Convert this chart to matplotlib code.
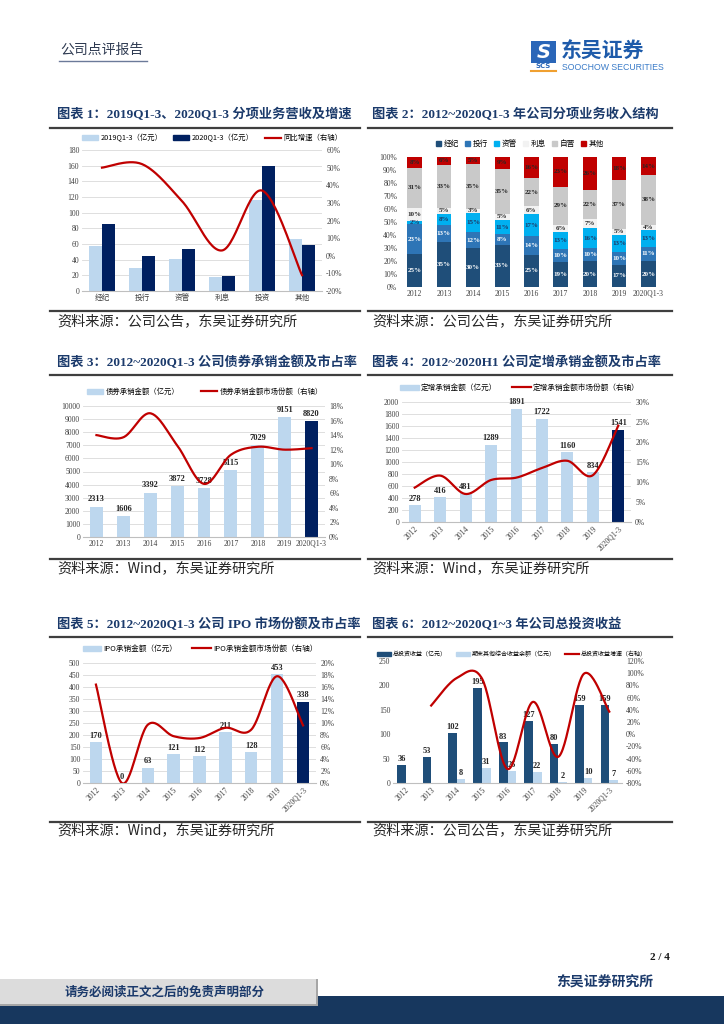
import matplotlib
matplotlib.use('Agg')
import matplotlib.pyplot as plt
import numpy as np
from matplotlib.patches import Rectangle, Patch
from matplotlib.lines import Line2D

plt.rcParams['font.family'] = ['Liberation Serif', 'Noto Sans CJK SC']
plt.rcParams['axes.unicode_minus'] = False

# ---------------- data ----------------
cat1 = ['经纪', '投行', '资管', '利息', '投资', '其他']
rev_2019 = [57, 30, 41, 18, 116, 66]
rev_2020 = [85, 45, 54, 19, 159, 59]
yoy_1 = [50, 52, 31, 3, 37, -11]

years2 = ['2012', '2013', '2014', '2015', '2016', '2017', '2018', '2019', '2020Q1-3']
seg_names = ['经纪', '投行', '资管', '利息', '自营', '其他']
s_brokerage = [25, 35, 30, 33, 25, 19, 20, 17, 20]
s_ib = [23, 13, 12, 8, 14, 10, 10, 10, 11]
s_am = [2, 8, 15, 11, 17, 13, 16, 13, 13]
s_interest = [10, 5, 3, 5, 6, 6, 7, 5, 4]
s_prop = [31, 33, 35, 35, 22, 29, 22, 37, 38]
s_other = [8, 6, 5, 9, 16, 23, 26, 18, 14]

years = ['2012', '2013', '2014', '2015', '2016', '2017', '2018', '2019', '2020Q1-3']
bond_amt = [2313, 1606, 3392, 3872, 3728, 5115, 7029, 9151, 8820]
bond_share = [14.0, 13.7, 17.0, 12.6, 7.3, 11.3, 12.4, 12.0, 12.2]

years4 = ['2012', '2013', '2014', '2015', '2016', '2017', '2018', '2019', '2020Q1-3']
pp_amt = [278, 416, 481, 1289, 1891, 1722, 1160, 834, 1541]
pp_share = [8.6, 11.6, 7.0, 10.5, 11.1, 13.5, 15.3, 11.7, 24.1]

ipo_amt = [170, 0, 63, 121, 112, 211, 128, 453, 338]
ipo_share = [16.4, 0.0, 9.7, 7.8, 7.5, 9.2, 8.9, 17.8, 9.6]

inv_income = [36, 53, 102, 195, 83, 127, 80, 159, 159]
oci_balance = [np.nan, np.nan, 8, 31, 25, 22, 2, 10, 7]
inv_growth = [np.nan, 47, 92, 91, -57, 53, -37, 99, 37]

# ---------------- helpers ----------------
W, H = 724, 1024
fig = plt.figure(figsize=(7.24, 10.24), dpi=100)

LIGHT = '#BDD7EE'
NAVY = '#002060'
RED = '#C00000'
TITLE_C = '#1B3A6B'
TICK_C = '#404040'


def ax_px(x0, y0, x1, y1):
    return fig.add_axes([x0 / W, 1 - y1 / H, (x1 - x0) / W, (y1 - y0) / H])


def ftext(x, y, s, **kw):
    return fig.text(x / W, 1 - y / H, s, **kw)


def hline(x0, x1, y, lw=1.6, color='#3F3F3F'):
    fig.add_artist(Line2D([x0 / W, x1 / W], [1 - y / H, 1 - y / H], lw=lw,
                          color=color, transform=fig.transFigure))


def smooth(x, y, n=30):
    """Excel-style smoothed line (Catmull-Rom Bezier) through the data points."""
    pts = np.column_stack([np.asarray(x, float), np.asarray(y, float)])
    out = []
    for i in range(len(pts) - 1):
        p0 = pts[i - 1] if i > 0 else pts[i]
        p1, p2 = pts[i], pts[i + 1]
        p3 = pts[i + 2] if i + 2 < len(pts) else pts[i + 1]
        c1 = p1 + (p2 - p0) / 6
        c2 = p2 - (p3 - p1) / 6
        t = np.linspace(0, 1, n)[:, None]
        seg = (1 - t) ** 3 * p1 + 3 * (1 - t) ** 2 * t * c1 + 3 * (1 - t) * t ** 2 * c2 + t ** 3 * p2
        out.append(seg if i == 0 else seg[1:])
    s = np.vstack(out)
    return s[:, 0], s[:, 1]


def style(ax, grid=True):
    for s in ['top', 'right', 'left']:
        ax.spines[s].set_visible(False)
    ax.spines['bottom'].set_color('#BFBFBF')
    ax.spines['bottom'].set_linewidth(0.8)
    if grid:
        ax.grid(axis='y', color='#D9D9D9', lw=0.6)
    ax.set_axisbelow(True)
    ax.tick_params(length=0, labelsize=5.5, colors=TICK_C, pad=2)


def style2(ax2):
    for s in ax2.spines.values():
        s.set_visible(False)
    ax2.tick_params(length=0, labelsize=5.5, colors=TICK_C, pad=3)


def pct_fmt(ax2, ticks):
    ax2.set_yticks(ticks)
    ax2.set_yticklabels([f'{t:g}%' for t in ticks])


def legend_fig(handles, labels, x, y, fs=5.5, cs=2.0, hl=2.0, **kw):
    fig.legend(handles, labels, loc='center', bbox_to_anchor=(x / W, 1 - y / H),
               bbox_transform=fig.transFigure, ncol=len(handles), frameon=False,
               columnspacing=cs, handlelength=hl, handletextpad=0.3,
               prop={'family': ['Noto Sans CJK SC', 'DejaVu Sans'], 'size': fs}, **kw)


def titles(x, y, s):
    ftext(x, y, s, fontsize=9.5, fontweight='bold', color=TITLE_C, va='center', ha='left')


def source(x, y, s):
    ftext(x, y, s, fontsize=10.2, color='#262626', va='center', ha='left',
          family=['Noto Sans CJK SC', 'DejaVu Sans'])


# ---------------- header ----------------
ftext(60, 50, '公司点评报告', fontsize=10, color='#2F3B52', va='center', ha='left',
      family=['Noto Sans CJK SC'])
hline(59, 147, 61, lw=1.0, color='#6B7A99')
fig.add_artist(Rectangle((531 / W, 1 - 63 / H), 25 / W, 22 / H, transform=fig.transFigure,
                         facecolor='#2A66B8', edgecolor='none'))
ftext(543.5, 52, 'S', fontsize=14, fontweight='bold', color='white', ha='center', va='center',
      family=['DejaVu Sans'], style='italic')
ftext(543.5, 66.5, 'SCS', fontsize=5, fontweight='bold', color='#2A66B8', ha='center', va='center',
      family=['DejaVu Sans'])
hline(531, 556, 70.5, lw=1.5, color='#F0A030')
ftext(561, 51, '东吴证券', fontsize=15, fontweight='bold', color='#1E5BAA', ha='left', va='center',
      family=['Noto Sans CJK SC'])
ftext(562, 67, 'SOOCHOW SECURITIES', fontsize=6.3, color='#3A7BC8', ha='left', va='center',
      family=['Liberation Sans'])

# ---------------- chart 1 ----------------
titles(57, 115, '图表 1：2019Q1-3、2020Q1-3 分项业务营收及增速')
hline(50, 360, 128)
ax = ax_px(82, 150, 322, 291)
x = np.arange(len(cat1))
bw = 0.32
ax.bar(x - bw / 2, rev_2019, bw, color=LIGHT, zorder=2)
ax.bar(x + bw / 2, rev_2020, bw, color=NAVY, zorder=2)
ax.set_xlim(-0.5, len(cat1) - 0.5)
ax.set_ylim(0, 180)
ax.set_yticks(range(0, 181, 20))
ax.set_xticks(x)
ax.set_xticklabels(cat1, fontsize=6, family=['Noto Sans CJK SC'])
style(ax)
ax2 = ax.twinx()
sx, sy = smooth(x, yoy_1)
ax2.plot(sx, sy, color=RED, lw=1.6)
ax2.set_ylim(-20, 60)
pct_fmt(ax2, list(range(-20, 61, 10)))
style2(ax2)
legend_fig([Patch(color=LIGHT), Patch(color=NAVY), Line2D([], [], color=RED, lw=1.6)],
           ['2019Q1-3（亿元）', '2020Q1-3（亿元）', '同比增速（右轴）'], 212, 138, fs=5.3, cs=1.5, hl=2.2)
hline(50, 360, 311)
source(57, 321, '资料来源：公司公告，东吴证券研究所')

# ---------------- chart 2 ----------------
titles(372, 115, '图表 2：2012~2020Q1-3 年公司分项业务收入结构')
hline(368, 672, 128)
ax = ax_px(400, 157, 663, 287)
segs = [s_brokerage, s_ib, s_am, s_interest, s_prop, s_other]
cols = ['#1F4E79', '#2E75B6', '#00B0F0', '#F2F2F2', '#C9C9C9', RED]
tcols = ['white', 'white', '#1F3864', '#262626', '#262626', '#262626']
arr = np.array(segs, float)
tot = arr.sum(axis=0)
shares = arr / tot * 100
x = np.arange(len(years2))
bottom = np.zeros(len(years2))
handles = []
for i, (name, c) in enumerate(zip(seg_names, cols)):
    ax.bar(x, shares[i], 0.5, bottom=bottom, color=c, zorder=2)
    for j in range(len(years2)):
        ax.text(x[j], bottom[j] + shares[i][j] / 2, f'{int(arr[i][j])}%', ha='center', va='center',
                fontsize=5, fontweight='bold', color=tcols[i], zorder=3)
    bottom += shares[i]
    handles.append(Patch(color=c))
ax.set_xlim(-0.5, len(years2) - 0.5)
ax.set_ylim(0, 100)
ax.set_yticks(range(0, 101, 10))
ax.set_yticklabels([f'{t}%' for t in range(0, 101, 10)])
ax.set_xticks(x)
ax.set_xticklabels(years2)
style(ax, grid=False)
ax.spines['bottom'].set_visible(False)
legend_fig(handles, seg_names, 520, 144, fs=5.5, cs=0.8, hl=0.7)
hline(368, 672, 311)
source(372, 321, '资料来源：公司公告，东吴证券研究所')

# ---------------- chart 3 ----------------
titles(57, 362, '图表 3：2012~2020Q1-3 公司债券承销金额及市占率')
hline(50, 360, 375)
ax = ax_px(83, 406, 325, 537)
x = np.arange(len(years))
colors = [LIGHT] * (len(years) - 1) + [NAVY]
ax.bar(x, bond_amt, 0.48, color=colors, zorder=2)
for xi, v in zip(x, bond_amt):
    ax.text(xi, v + 250, f'{v}', ha='center', va='bottom', fontsize=6, fontweight='bold', color='#262626')
ax.set_xlim(-0.5, len(years) - 0.5)
ax.set_ylim(0, 10000)
ax.set_yticks(range(0, 10001, 1000))
ax.set_xticks(x)
ax.set_xticklabels(years)
style(ax)
ax2 = ax.twinx()
sx, sy = smooth(x, bond_share)
ax2.plot(sx, sy, color=RED, lw=1.6)
ax2.set_ylim(0, 18)
pct_fmt(ax2, list(range(0, 19, 2)))
style2(ax2)
legend_fig([Patch(color=LIGHT), Line2D([], [], color=RED, lw=1.6)],
           ['债券承销金额（亿元）', '债券承销金额市场份额（右轴）'], 205, 392, fs=5.3, cs=3.0, hl=2.2)
hline(50, 360, 559)
source(57, 568, '资料来源：Wind，东吴证券研究所')

# ---------------- chart 4 ----------------
titles(372, 362, '图表 4：2012~2020H1 公司定增承销金额及市占率')
hline(368, 672, 375)
ax = ax_px(402, 402, 631, 522)
x = np.arange(len(years4))
ax.bar(x, pp_amt, 0.47, color=colors, zorder=2)
for xi, v in zip(x, pp_amt):
    ax.text(xi, v + 40, f'{v}', ha='center', va='bottom', fontsize=6, fontweight='bold', color='#262626')
ax.set_xlim(-0.5, len(years4) - 0.5)
ax.set_ylim(0, 2000)
ax.set_yticks(range(0, 2001, 200))
ax.set_xticks(x)
ax.set_xticklabels(years4, rotation=45, ha='right', rotation_mode='anchor')
style(ax)
ax2 = ax.twinx()
sx, sy = smooth(x, pp_share)
ax2.plot(sx, sy, color=RED, lw=1.6)
ax2.set_ylim(0, 30)
pct_fmt(ax2, list(range(0, 31, 5)))
style2(ax2)
legend_fig([Patch(color=LIGHT), Line2D([], [], color=RED, lw=1.6)],
           ['定增承销金额（亿元）', '定增承销金额市场份额（右轴）'], 520, 388, fs=5.5, cs=2.0, hl=2.4)
hline(368, 672, 559)
source(372, 568, '资料来源：Wind，东吴证券研究所')

# ---------------- chart 5 ----------------
titles(57, 624, '图表 5：2012~2020Q1-3 公司 IPO 市场份额及市占率')
hline(50, 360, 637)
ax = ax_px(83, 663, 316, 783)
x = np.arange(len(years))
ax.bar(x, ipo_amt, 0.48, color=colors, zorder=2)
for xi, v in zip(x, ipo_amt):
    ax.text(xi, v + 10, f'{v}', ha='center', va='bottom', fontsize=6, fontweight='bold', color='#262626')
ax.set_xlim(-0.5, len(years) - 0.5)
ax.set_ylim(0, 500)
ax.set_yticks(range(0, 501, 50))
ax.set_xticks(x)
ax.set_xticklabels(years, rotation=45, ha='right', rotation_mode='anchor')
style(ax)
ax2 = ax.twinx()
sx, sy = smooth(x, ipo_share)
ax2.plot(sx, sy, color=RED, lw=1.6)
ax2.set_ylim(0, 20)
pct_fmt(ax2, list(range(0, 21, 2)))
style2(ax2)
legend_fig([Patch(color=LIGHT), Line2D([], [], color=RED, lw=1.6)],
           ['IPO承销金额（亿元）', 'IPO承销金额市场份额（右轴）'], 200, 649, fs=5.5, cs=2.0, hl=2.4)
hline(50, 360, 822)
source(57, 830, '资料来源：Wind，东吴证券研究所')

# ---------------- chart 6 ----------------
titles(372, 624, '图表 6：2012~2020Q1~3 年公司总投资收益')
hline(368, 672, 637)
ax = ax_px(393, 661, 622, 783)
x = np.arange(len(years))
bw = 0.34
ax.bar(x - bw / 2, inv_income, bw, color='#1F4E79', zorder=2)
oci = np.array(oci_balance, float)
ax.bar(x + bw / 2, np.nan_to_num(oci), bw, color=LIGHT, zorder=2)
for xi, v in zip(x, inv_income):
    ax.text(xi - bw / 2, v + 4, f'{v}', ha='center', va='bottom', fontsize=6, fontweight='bold', color='#262626')
for xi, v in zip(x, oci):
    if not np.isnan(v):
        ax.text(xi + bw / 2, v + 4, f'{int(v)}', ha='center', va='bottom', fontsize=6,
                fontweight='bold', color='#262626')
ax.set_xlim(-0.5, len(years) - 0.5)
ax.set_ylim(0, 250)
ax.set_yticks(range(0, 251, 50))
ax.set_xticks(x)
ax.set_xticklabels(years, rotation=45, ha='right', rotation_mode='anchor')
style(ax, grid=False)
ax2 = ax.twinx()
g = np.array(inv_growth, float)
m = ~np.isnan(g)
sx, sy = smooth(x[m], g[m])
ax2.plot(sx, sy, color=RED, lw=1.6)
ax2.set_ylim(-80, 120)
pct_fmt(ax2, list(range(-80, 121, 20)))
style2(ax2)
legend_fig([Patch(color='#1F4E79'), Patch(color=LIGHT), Line2D([], [], color=RED, lw=1.6)],
           ['总投资收益（亿元）', '期末其他综合收益余额（亿元）', '总投资收益增速（右轴）'], 512, 654,
           fs=4.3, cs=1.5, hl=2.4)
hline(368, 672, 822)
source(372, 830, '资料来源：公司公告，东吴证券研究所')

# ---------------- footer ----------------
ftext(670, 958, '2 / 4', fontsize=8, fontweight='bold', color='#1A1A1A', ha='right', va='center')
ftext(605, 983, '东吴证券研究所', fontsize=10, fontweight='bold', color=TITLE_C, ha='center', va='center',
      family=['Noto Sans CJK SC'])
fig.add_artist(Rectangle((0, 0), 1, 28 / H, transform=fig.transFigure, facecolor='#17375E',
                         edgecolor='none'))
fig.add_artist(Rectangle((0, 1 - 1006 / H), 318 / W, 27 / H, transform=fig.transFigure,
                         facecolor='#A6A6A6', edgecolor='none'))
fig.add_artist(Rectangle((0, 1 - 1004 / H), 316 / W, 25 / H, transform=fig.transFigure,
                         facecolor='#DCDCDC', edgecolor='none'))
ftext(165, 992, '请务必阅读正文之后的免责声明部分', fontsize=9, fontweight='bold', color=TITLE_C,
      ha='center', va='center', family=['Noto Sans CJK SC'])

fig.savefig('out.png', dpi=100)
